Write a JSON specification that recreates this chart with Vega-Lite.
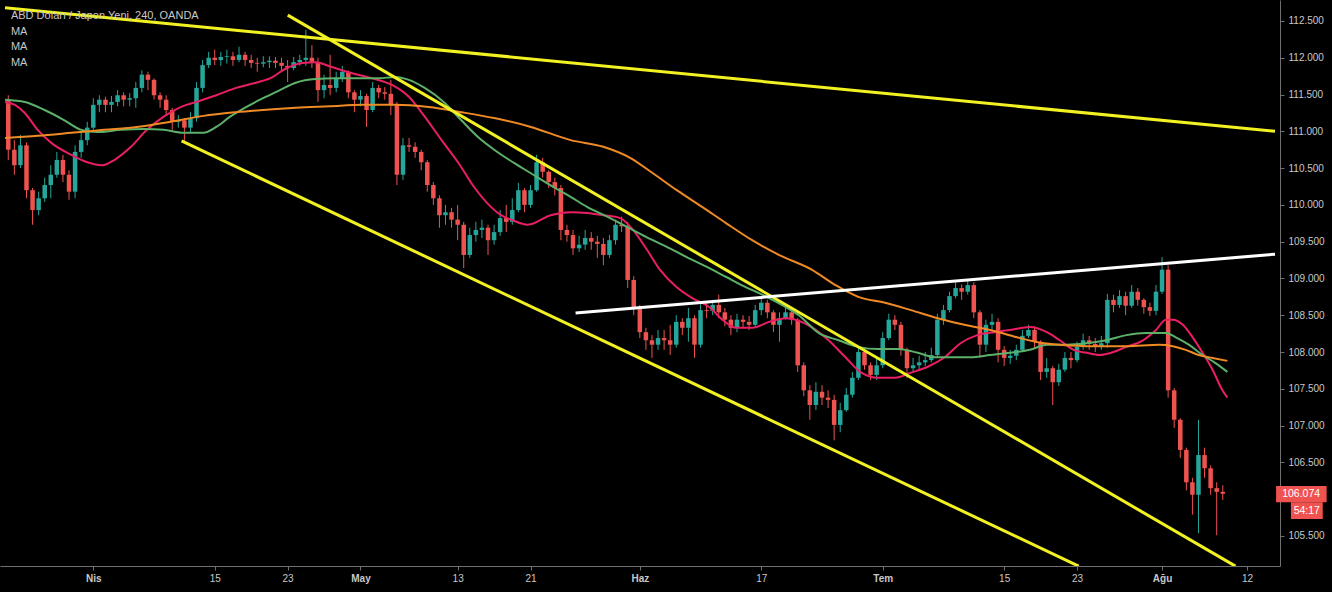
{
  "$schema": "https://vega.github.io/schema/vega-lite/v6.json",
  "width": 1280,
  "height": 566,
  "autosize": {"type": "none"},
  "padding": {"left": 0, "top": 0, "right": 52, "bottom": 26},
  "background": "#000000",
  "config": {"view": {"stroke": null}, "font": "Liberation Sans"},
  "datasets": {
    "candles": [
      {"t":-7,"o":111.43,"h":111.49,"l":110.61,"c":110.75},
      {"t":-6.5,"o":110.75,"h":110.88,"l":110.41,"c":110.54},
      {"t":-6,"o":110.54,"h":110.95,"l":110.50,"c":110.81},
      {"t":-5.5,"o":110.81,"h":110.85,"l":110.09,"c":110.20},
      {"t":-5,"o":110.20,"h":110.23,"l":109.73,"c":109.93},
      {"t":-4.5,"o":109.93,"h":110.18,"l":109.86,"c":110.09},
      {"t":-4,"o":110.09,"h":110.37,"l":110.04,"c":110.27},
      {"t":-3.5,"o":110.27,"h":110.54,"l":110.09,"c":110.41},
      {"t":-3,"o":110.41,"h":110.72,"l":110.37,"c":110.61},
      {"t":-2.5,"o":110.61,"h":110.68,"l":110.31,"c":110.41},
      {"t":-2,"o":110.41,"h":110.47,"l":110.07,"c":110.18},
      {"t":-1.5,"o":110.18,"h":110.81,"l":110.09,"c":110.72},
      {"t":-1,"o":110.72,"h":110.99,"l":110.64,"c":110.88},
      {"t":-0.5,"o":110.88,"h":111.13,"l":110.81,"c":111.05},
      {"t":0,"o":111.05,"h":111.45,"l":110.99,"c":111.36},
      {"t":0.5,"o":111.36,"h":111.49,"l":111.26,"c":111.43},
      {"t":1,"o":111.43,"h":111.47,"l":111.26,"c":111.36},
      {"t":1.5,"o":111.36,"h":111.48,"l":111.26,"c":111.40},
      {"t":2,"o":111.40,"h":111.56,"l":111.34,"c":111.49},
      {"t":2.5,"o":111.49,"h":111.53,"l":111.34,"c":111.43},
      {"t":3,"o":111.43,"h":111.52,"l":111.34,"c":111.45},
      {"t":3.5,"o":111.45,"h":111.67,"l":111.32,"c":111.59},
      {"t":4,"o":111.59,"h":111.83,"l":111.53,"c":111.77},
      {"t":4.5,"o":111.77,"h":111.81,"l":111.56,"c":111.70},
      {"t":5,"o":111.70,"h":111.72,"l":111.43,"c":111.49},
      {"t":5.5,"o":111.49,"h":111.53,"l":111.32,"c":111.43},
      {"t":6,"o":111.43,"h":111.49,"l":111.22,"c":111.29},
      {"t":6.5,"o":111.29,"h":111.32,"l":111.02,"c":111.13},
      {"t":7,"o":111.13,"h":111.22,"l":111.05,"c":111.15},
      {"t":7.5,"o":111.15,"h":111.18,"l":110.85,"c":111.05},
      {"t":8,"o":111.05,"h":111.26,"l":110.99,"c":111.18},
      {"t":8.5,"o":111.18,"h":111.67,"l":111.13,"c":111.59},
      {"t":9,"o":111.59,"h":111.97,"l":111.53,"c":111.90},
      {"t":9.5,"o":111.90,"h":112.08,"l":111.86,"c":112.00},
      {"t":10,"o":112.00,"h":112.11,"l":111.90,"c":111.97},
      {"t":10.5,"o":111.97,"h":112.08,"l":111.89,"c":112.01},
      {"t":11,"o":112.01,"h":112.11,"l":111.92,"c":112.02},
      {"t":11.5,"o":112.02,"h":112.08,"l":111.89,"c":111.97},
      {"t":12,"o":111.97,"h":112.15,"l":111.94,"c":112.04},
      {"t":12.5,"o":112.04,"h":112.08,"l":111.89,"c":111.97},
      {"t":13,"o":111.97,"h":112.04,"l":111.86,"c":111.93},
      {"t":13.5,"o":111.93,"h":112.00,"l":111.81,"c":111.92},
      {"t":14,"o":111.92,"h":112.02,"l":111.87,"c":111.94},
      {"t":14.5,"o":111.94,"h":112.02,"l":111.86,"c":111.96},
      {"t":15,"o":111.96,"h":112.01,"l":111.86,"c":111.93},
      {"t":15.5,"o":111.93,"h":112.00,"l":111.81,"c":111.89},
      {"t":16,"o":111.89,"h":111.97,"l":111.67,"c":111.86},
      {"t":16.5,"o":111.86,"h":112.01,"l":111.83,"c":111.94},
      {"t":17,"o":111.94,"h":112.04,"l":111.89,"c":111.97},
      {"t":17.5,"o":111.97,"h":112.38,"l":111.89,"c":112.00},
      {"t":18,"o":112.00,"h":112.17,"l":111.86,"c":111.94},
      {"t":18.5,"o":111.94,"h":112.00,"l":111.40,"c":111.56},
      {"t":19,"o":111.56,"h":111.77,"l":111.45,"c":111.63},
      {"t":19.5,"o":111.63,"h":112.04,"l":111.49,"c":111.59},
      {"t":20,"o":111.59,"h":111.81,"l":111.53,"c":111.72},
      {"t":20.5,"o":111.72,"h":111.89,"l":111.67,"c":111.81},
      {"t":21,"o":111.81,"h":111.83,"l":111.45,"c":111.53},
      {"t":21.5,"o":111.53,"h":111.56,"l":111.26,"c":111.43},
      {"t":22,"o":111.43,"h":111.56,"l":111.34,"c":111.48},
      {"t":22.5,"o":111.48,"h":111.51,"l":111.06,"c":111.29},
      {"t":23,"o":111.29,"h":111.67,"l":111.26,"c":111.59},
      {"t":23.5,"o":111.59,"h":111.63,"l":111.45,"c":111.53},
      {"t":24,"o":111.53,"h":111.60,"l":111.43,"c":111.51},
      {"t":24.5,"o":111.51,"h":111.70,"l":111.22,"c":111.36},
      {"t":25,"o":111.36,"h":111.40,"l":110.27,"c":110.41},
      {"t":25.5,"o":110.41,"h":110.91,"l":110.34,"c":110.81},
      {"t":26,"o":110.81,"h":110.91,"l":110.72,"c":110.79},
      {"t":26.5,"o":110.79,"h":110.85,"l":110.64,"c":110.72},
      {"t":27,"o":110.72,"h":110.75,"l":110.47,"c":110.58},
      {"t":27.5,"o":110.58,"h":110.61,"l":110.18,"c":110.27},
      {"t":28,"o":110.27,"h":110.31,"l":110.00,"c":110.09},
      {"t":28.5,"o":110.09,"h":110.13,"l":109.69,"c":109.86},
      {"t":29,"o":109.86,"h":110.00,"l":109.73,"c":109.90},
      {"t":29.5,"o":109.90,"h":109.96,"l":109.69,"c":109.80},
      {"t":30,"o":109.80,"h":110.00,"l":109.52,"c":109.73},
      {"t":30.5,"o":109.73,"h":109.77,"l":109.14,"c":109.32},
      {"t":31,"o":109.32,"h":109.69,"l":109.28,"c":109.59},
      {"t":31.5,"o":109.59,"h":109.77,"l":109.50,"c":109.66},
      {"t":32,"o":109.66,"h":109.80,"l":109.55,"c":109.69},
      {"t":32.5,"o":109.69,"h":109.73,"l":109.32,"c":109.52},
      {"t":33,"o":109.52,"h":109.73,"l":109.46,"c":109.63},
      {"t":33.5,"o":109.63,"h":109.93,"l":109.58,"c":109.82},
      {"t":34,"o":109.82,"h":110.00,"l":109.63,"c":109.77},
      {"t":34.5,"o":109.77,"h":110.09,"l":109.73,"c":109.93},
      {"t":35,"o":109.93,"h":110.30,"l":109.90,"c":110.20},
      {"t":35.5,"o":110.20,"h":110.23,"l":109.90,"c":110.00},
      {"t":36,"o":110.00,"h":110.27,"l":109.96,"c":110.20},
      {"t":36.5,"o":110.20,"h":110.68,"l":110.18,"c":110.58},
      {"t":37,"o":110.58,"h":110.64,"l":110.37,"c":110.45},
      {"t":37.5,"o":110.45,"h":110.47,"l":110.23,"c":110.31},
      {"t":38,"o":110.31,"h":110.37,"l":110.13,"c":110.23},
      {"t":38.5,"o":110.23,"h":110.27,"l":109.52,"c":109.66},
      {"t":39,"o":109.66,"h":109.73,"l":109.50,"c":109.59},
      {"t":39.5,"o":109.59,"h":109.66,"l":109.32,"c":109.41},
      {"t":40,"o":109.41,"h":109.58,"l":109.36,"c":109.46},
      {"t":40.5,"o":109.46,"h":109.66,"l":109.39,"c":109.55},
      {"t":41,"o":109.55,"h":109.63,"l":109.39,"c":109.50},
      {"t":41.5,"o":109.50,"h":109.58,"l":109.28,"c":109.47},
      {"t":42,"o":109.47,"h":109.55,"l":109.18,"c":109.32},
      {"t":42.5,"o":109.32,"h":109.59,"l":109.28,"c":109.52},
      {"t":43,"o":109.52,"h":109.80,"l":109.46,"c":109.73},
      {"t":43.5,"o":109.73,"h":109.84,"l":109.63,"c":109.71},
      {"t":44,"o":109.71,"h":109.77,"l":108.87,"c":108.98},
      {"t":44.5,"o":108.98,"h":109.03,"l":108.50,"c":108.60},
      {"t":45,"o":108.60,"h":108.64,"l":108.19,"c":108.27},
      {"t":45.5,"o":108.27,"h":108.33,"l":108.03,"c":108.16},
      {"t":46,"o":108.16,"h":108.23,"l":107.92,"c":108.10},
      {"t":46.5,"o":108.10,"h":108.30,"l":108.03,"c":108.19},
      {"t":47,"o":108.19,"h":108.30,"l":108.03,"c":108.16},
      {"t":47.5,"o":108.16,"h":108.37,"l":107.96,"c":108.10},
      {"t":48,"o":108.10,"h":108.50,"l":108.06,"c":108.41},
      {"t":48.5,"o":108.41,"h":108.46,"l":108.23,"c":108.33},
      {"t":49,"o":108.33,"h":108.60,"l":108.14,"c":108.46},
      {"t":49.5,"o":108.46,"h":108.50,"l":107.92,"c":108.10},
      {"t":50,"o":108.10,"h":108.65,"l":108.06,"c":108.57},
      {"t":50.5,"o":108.57,"h":108.68,"l":108.46,"c":108.56},
      {"t":51,"o":108.56,"h":108.71,"l":108.50,"c":108.64},
      {"t":51.5,"o":108.64,"h":108.78,"l":108.46,"c":108.54},
      {"t":52,"o":108.54,"h":108.60,"l":108.35,"c":108.44},
      {"t":52.5,"o":108.44,"h":108.50,"l":108.23,"c":108.33},
      {"t":53,"o":108.33,"h":108.52,"l":108.27,"c":108.44},
      {"t":53.5,"o":108.44,"h":108.50,"l":108.33,"c":108.41},
      {"t":54,"o":108.41,"h":108.49,"l":108.30,"c":108.37},
      {"t":54.5,"o":108.37,"h":108.64,"l":108.33,"c":108.57},
      {"t":55,"o":108.57,"h":108.75,"l":108.50,"c":108.67},
      {"t":55.5,"o":108.67,"h":108.71,"l":108.46,"c":108.54},
      {"t":56,"o":108.54,"h":108.57,"l":108.27,"c":108.37},
      {"t":56.5,"o":108.37,"h":108.54,"l":108.14,"c":108.46},
      {"t":57,"o":108.46,"h":108.63,"l":108.44,"c":108.54},
      {"t":57.5,"o":108.54,"h":108.60,"l":108.37,"c":108.44},
      {"t":58,"o":108.44,"h":108.46,"l":107.73,"c":107.82},
      {"t":58.5,"o":107.82,"h":107.86,"l":107.40,"c":107.48},
      {"t":59,"o":107.48,"h":107.55,"l":107.08,"c":107.28},
      {"t":59.5,"o":107.28,"h":107.59,"l":107.21,"c":107.46},
      {"t":60,"o":107.46,"h":107.55,"l":107.28,"c":107.38},
      {"t":60.5,"o":107.38,"h":107.48,"l":107.24,"c":107.35},
      {"t":61,"o":107.35,"h":107.42,"l":106.80,"c":107.01},
      {"t":61.5,"o":107.01,"h":107.31,"l":106.91,"c":107.21},
      {"t":62,"o":107.21,"h":107.51,"l":107.19,"c":107.42},
      {"t":62.5,"o":107.42,"h":107.73,"l":107.38,"c":107.65},
      {"t":63,"o":107.65,"h":108.08,"l":107.62,"c":108.00},
      {"t":63.5,"o":108.00,"h":108.06,"l":107.76,"c":107.82},
      {"t":64,"o":107.82,"h":107.86,"l":107.62,"c":107.69},
      {"t":64.5,"o":107.69,"h":107.92,"l":107.62,"c":107.82},
      {"t":65,"o":107.82,"h":108.27,"l":107.78,"c":108.19},
      {"t":65.5,"o":108.19,"h":108.52,"l":108.16,"c":108.44},
      {"t":66,"o":108.44,"h":108.50,"l":108.30,"c":108.37},
      {"t":66.5,"o":108.37,"h":108.41,"l":107.95,"c":108.03},
      {"t":67,"o":108.03,"h":108.06,"l":107.65,"c":107.78},
      {"t":67.5,"o":107.78,"h":107.92,"l":107.73,"c":107.82},
      {"t":68,"o":107.82,"h":107.95,"l":107.76,"c":107.86},
      {"t":68.5,"o":107.86,"h":108.00,"l":107.81,"c":107.89},
      {"t":69,"o":107.89,"h":108.06,"l":107.86,"c":107.96},
      {"t":69.5,"o":107.96,"h":108.52,"l":107.92,"c":108.44},
      {"t":70,"o":108.44,"h":108.64,"l":108.37,"c":108.57},
      {"t":70.5,"o":108.57,"h":108.82,"l":108.54,"c":108.76},
      {"t":71,"o":108.76,"h":108.95,"l":108.73,"c":108.87},
      {"t":71.5,"o":108.87,"h":108.92,"l":108.71,"c":108.82},
      {"t":72,"o":108.82,"h":108.98,"l":108.78,"c":108.91},
      {"t":72.5,"o":108.91,"h":108.95,"l":108.46,"c":108.54},
      {"t":73,"o":108.54,"h":108.57,"l":107.92,"c":108.10},
      {"t":73.5,"o":108.10,"h":108.44,"l":108.00,"c":108.37},
      {"t":74,"o":108.37,"h":108.52,"l":108.30,"c":108.41},
      {"t":74.5,"o":108.41,"h":108.46,"l":107.86,"c":108.03},
      {"t":75,"o":108.03,"h":108.08,"l":107.81,"c":107.92},
      {"t":75.5,"o":107.92,"h":108.03,"l":107.84,"c":107.95},
      {"t":76,"o":107.95,"h":108.10,"l":107.89,"c":108.03},
      {"t":76.5,"o":108.03,"h":108.30,"l":108.00,"c":108.22},
      {"t":77,"o":108.22,"h":108.37,"l":108.19,"c":108.30},
      {"t":77.5,"o":108.30,"h":108.35,"l":108.06,"c":108.14},
      {"t":78,"o":108.14,"h":108.16,"l":107.62,"c":107.73},
      {"t":78.5,"o":107.73,"h":107.92,"l":107.65,"c":107.78},
      {"t":79,"o":107.78,"h":107.81,"l":107.28,"c":107.59},
      {"t":79.5,"o":107.59,"h":107.84,"l":107.54,"c":107.76},
      {"t":80,"o":107.76,"h":108.00,"l":107.73,"c":107.92},
      {"t":80.5,"o":107.92,"h":108.00,"l":107.78,"c":107.89},
      {"t":81,"o":107.89,"h":108.14,"l":107.86,"c":108.07},
      {"t":81.5,"o":108.07,"h":108.25,"l":108.03,"c":108.16},
      {"t":82,"o":108.16,"h":108.22,"l":108.03,"c":108.11},
      {"t":82.5,"o":108.11,"h":108.19,"l":108.00,"c":108.07},
      {"t":83,"o":108.07,"h":108.22,"l":108.03,"c":108.12},
      {"t":83.5,"o":108.12,"h":108.79,"l":108.06,"c":108.71},
      {"t":84,"o":108.71,"h":108.78,"l":108.54,"c":108.64},
      {"t":84.5,"o":108.64,"h":108.84,"l":108.60,"c":108.76},
      {"t":85,"o":108.76,"h":108.82,"l":108.50,"c":108.63},
      {"t":85.5,"o":108.63,"h":108.91,"l":108.60,"c":108.82},
      {"t":86,"o":108.82,"h":108.87,"l":108.63,"c":108.71},
      {"t":86.5,"o":108.71,"h":108.73,"l":108.52,"c":108.61},
      {"t":87,"o":108.61,"h":108.67,"l":108.49,"c":108.56},
      {"t":87.5,"o":108.56,"h":108.91,"l":108.50,"c":108.82},
      {"t":88,"o":108.82,"h":109.29,"l":108.79,"c":109.12},
      {"t":88.5,"o":109.12,"h":109.18,"l":107.38,"c":107.48},
      {"t":89,"o":107.48,"h":107.51,"l":106.97,"c":107.08},
      {"t":89.5,"o":107.08,"h":107.10,"l":106.56,"c":106.67},
      {"t":90,"o":106.67,"h":106.70,"l":106.12,"c":106.23},
      {"t":90.5,"o":106.23,"h":106.29,"l":105.79,"c":106.06},
      {"t":91,"o":106.06,"h":107.08,"l":105.54,"c":106.60},
      {"t":91.5,"o":106.60,"h":106.70,"l":106.29,"c":106.42},
      {"t":92,"o":106.42,"h":106.46,"l":106.06,"c":106.15},
      {"t":92.5,"o":106.15,"h":106.23,"l":105.51,"c":106.10},
      {"t":93,"o":106.10,"h":106.19,"l":105.99,"c":106.074}
    ],
    "ma": [
      {"s":"MA fast","t":-7.27,"p":111.40},{"s":"MA fast","t":-6.45,"p":111.36},{"s":"MA fast","t":-5.64,"p":111.25},
      {"s":"MA fast","t":-4.58,"p":111.02},{"s":"MA fast","t":-3.43,"p":110.84},{"s":"MA fast","t":-1.80,"p":110.68},
      {"s":"MA fast","t":-0.49,"p":110.58},{"s":"MA fast","t":0.74,"p":110.54},{"s":"MA fast","t":1.72,"p":110.61},
      {"s":"MA fast","t":3.10,"p":110.79},{"s":"MA fast","t":4.41,"p":111.02},{"s":"MA fast","t":5.80,"p":111.20},
      {"s":"MA fast","t":7.19,"p":111.33},{"s":"MA fast","t":8.50,"p":111.40},{"s":"MA fast","t":10.13,"p":111.49},
      {"s":"MA fast","t":11.76,"p":111.59},{"s":"MA fast","t":13.40,"p":111.66},{"s":"MA fast","t":14.79,"p":111.74},
      {"s":"MA fast","t":15.60,"p":111.83},{"s":"MA fast","t":17.24,"p":111.93},{"s":"MA fast","t":18.30,"p":111.94},
      {"s":"MA fast","t":19.69,"p":111.87},{"s":"MA fast","t":21.32,"p":111.79},{"s":"MA fast","t":22.96,"p":111.72},
      {"s":"MA fast","t":24.59,"p":111.63},{"s":"MA fast","t":25.98,"p":111.47},{"s":"MA fast","t":27.29,"p":111.20},
      {"s":"MA fast","t":28.68,"p":110.88},{"s":"MA fast","t":30.07,"p":110.57},{"s":"MA fast","t":31.37,"p":110.24},
      {"s":"MA fast","t":32.76,"p":109.97},{"s":"MA fast","t":33.58,"p":109.86},{"s":"MA fast","t":34.40,"p":109.80},
      {"s":"MA fast","t":35.78,"p":109.73},{"s":"MA fast","t":37.66,"p":109.86},{"s":"MA fast","t":39.30,"p":109.90},
      {"s":"MA fast","t":40.69,"p":109.89},{"s":"MA fast","t":41.99,"p":109.86},{"s":"MA fast","t":43.38,"p":109.82},
      {"s":"MA fast","t":44.44,"p":109.66},{"s":"MA fast","t":45.59,"p":109.39},{"s":"MA fast","t":46.65,"p":109.12},
      {"s":"MA fast","t":48.04,"p":108.88},{"s":"MA fast","t":49.35,"p":108.73},{"s":"MA fast","t":50.74,"p":108.61},
      {"s":"MA fast","t":51.80,"p":108.44},{"s":"MA fast","t":52.94,"p":108.33},{"s":"MA fast","t":54.25,"p":108.33},
      {"s":"MA fast","t":55.64,"p":108.41},{"s":"MA fast","t":57.03,"p":108.46},{"s":"MA fast","t":59.15,"p":108.34},
      {"s":"MA fast","t":60.54,"p":108.16},{"s":"MA fast","t":61.93,"p":107.93},{"s":"MA fast","t":63.24,"p":107.72},
      {"s":"MA fast","t":64.62,"p":107.65},{"s":"MA fast","t":66.01,"p":107.65},{"s":"MA fast","t":67.32,"p":107.72},
      {"s":"MA fast","t":68.71,"p":107.80},{"s":"MA fast","t":70.10,"p":107.93},{"s":"MA fast","t":71.41,"p":108.12},
      {"s":"MA fast","t":72.79,"p":108.23},{"s":"MA fast","t":74.18,"p":108.27},{"s":"MA fast","t":75.49,"p":108.30},
      {"s":"MA fast","t":77.12,"p":108.34},{"s":"MA fast","t":78.51,"p":108.27},{"s":"MA fast","t":79.58,"p":108.16},
      {"s":"MA fast","t":80.72,"p":108.03},{"s":"MA fast","t":81.78,"p":107.99},{"s":"MA fast","t":82.84,"p":107.96},
      {"s":"MA fast","t":83.99,"p":108.00},{"s":"MA fast","t":85.05,"p":108.07},{"s":"MA fast","t":86.44,"p":108.16},
      {"s":"MA fast","t":87.50,"p":108.30},{"s":"MA fast","t":88.32,"p":108.44},{"s":"MA fast","t":88.89,"p":108.44},
      {"s":"MA fast","t":89.71,"p":108.37},{"s":"MA fast","t":90.52,"p":108.20},{"s":"MA fast","t":91.34,"p":107.99},
      {"s":"MA fast","t":92.16,"p":107.76},{"s":"MA fast","t":92.97,"p":107.48},{"s":"MA fast","t":93.38,"p":107.38},

      {"s":"MA mid","t":-7.27,"p":111.43},{"s":"MA mid","t":-5.64,"p":111.40},{"s":"MA mid","t":-4.00,"p":111.29},
      {"s":"MA mid","t":-2.37,"p":111.15},{"s":"MA mid","t":-0.98,"p":111.02},{"s":"MA mid","t":0.33,"p":110.99},
      {"s":"MA mid","t":2.29,"p":111.02},{"s":"MA mid","t":4.17,"p":111.03},{"s":"MA mid","t":5.80,"p":111.02},
      {"s":"MA mid","t":7.43,"p":110.98},{"s":"MA mid","t":9.07,"p":110.98},{"s":"MA mid","t":10.13,"p":111.06},
      {"s":"MA mid","t":11.27,"p":111.20},{"s":"MA mid","t":12.58,"p":111.33},{"s":"MA mid","t":13.97,"p":111.45},
      {"s":"MA mid","t":15.36,"p":111.56},{"s":"MA mid","t":16.67,"p":111.66},{"s":"MA mid","t":18.30,"p":111.71},
      {"s":"MA mid","t":19.93,"p":111.72},{"s":"MA mid","t":21.90,"p":111.72},{"s":"MA mid","t":23.53,"p":111.72},
      {"s":"MA mid","t":24.84,"p":111.74},{"s":"MA mid","t":25.98,"p":111.70},{"s":"MA mid","t":27.29,"p":111.59},
      {"s":"MA mid","t":28.92,"p":111.39},{"s":"MA mid","t":30.31,"p":111.15},{"s":"MA mid","t":31.70,"p":110.92},
      {"s":"MA mid","t":33.01,"p":110.75},{"s":"MA mid","t":34.64,"p":110.57},{"s":"MA mid","t":36.03,"p":110.43},
      {"s":"MA mid","t":37.91,"p":110.24},{"s":"MA mid","t":39.30,"p":110.11},{"s":"MA mid","t":40.69,"p":109.97},
      {"s":"MA mid","t":42.32,"p":109.84},{"s":"MA mid","t":43.95,"p":109.70},{"s":"MA mid","t":45.59,"p":109.56},
      {"s":"MA mid","t":47.22,"p":109.43},{"s":"MA mid","t":48.86,"p":109.29},{"s":"MA mid","t":50.49,"p":109.16},
      {"s":"MA mid","t":52.12,"p":109.02},{"s":"MA mid","t":53.76,"p":108.88},{"s":"MA mid","t":55.07,"p":108.78},
      {"s":"MA mid","t":57.03,"p":108.61},{"s":"MA mid","t":58.09,"p":108.50},{"s":"MA mid","t":59.72,"p":108.26},
      {"s":"MA mid","t":61.36,"p":108.16},{"s":"MA mid","t":62.99,"p":108.07},{"s":"MA mid","t":64.62,"p":108.04},
      {"s":"MA mid","t":66.26,"p":108.04},{"s":"MA mid","t":67.89,"p":107.99},{"s":"MA mid","t":69.28,"p":107.93},
      {"s":"MA mid","t":70.59,"p":107.93},{"s":"MA mid","t":72.22,"p":107.93},{"s":"MA mid","t":73.86,"p":107.96},
      {"s":"MA mid","t":75.49,"p":107.99},{"s":"MA mid","t":77.12,"p":108.03},{"s":"MA mid","t":78.51,"p":108.10},
      {"s":"MA mid","t":80.15,"p":108.10},{"s":"MA mid","t":81.78,"p":108.12},{"s":"MA mid","t":83.42,"p":108.16},
      {"s":"MA mid","t":85.05,"p":108.23},{"s":"MA mid","t":86.68,"p":108.26},{"s":"MA mid","t":88.32,"p":108.26},
      {"s":"MA mid","t":89.13,"p":108.20},{"s":"MA mid","t":90.20,"p":108.10},{"s":"MA mid","t":91.34,"p":107.96},
      {"s":"MA mid","t":92.40,"p":107.85},{"s":"MA mid","t":93.38,"p":107.73},

      {"s":"MA slow","t":-7.27,"p":110.91},{"s":"MA slow","t":-4.58,"p":110.94},{"s":"MA slow","t":-1.80,"p":110.98},
      {"s":"MA slow","t":0.90,"p":111.02},{"s":"MA slow","t":3.59,"p":111.06},{"s":"MA slow","t":6.37,"p":111.13},
      {"s":"MA slow","t":9.07,"p":111.21},{"s":"MA slow","t":11.76,"p":111.26},{"s":"MA slow","t":14.79,"p":111.30},
      {"s":"MA slow","t":16.67,"p":111.32},{"s":"MA slow","t":19.44,"p":111.34},{"s":"MA slow","t":22.14,"p":111.36},
      {"s":"MA slow","t":24.84,"p":111.36},{"s":"MA slow","t":27.61,"p":111.33},{"s":"MA slow","t":30.31,"p":111.26},
      {"s":"MA slow","t":33.01,"p":111.18},{"s":"MA slow","t":36.03,"p":111.06},{"s":"MA slow","t":39.30,"p":110.88},
      {"s":"MA slow","t":41.99,"p":110.79},{"s":"MA slow","t":44.20,"p":110.64},{"s":"MA slow","t":46.08,"p":110.43},
      {"s":"MA slow","t":48.04,"p":110.20},{"s":"MA slow","t":50.16,"p":109.97},{"s":"MA slow","t":52.12,"p":109.75},
      {"s":"MA slow","t":54.25,"p":109.52},{"s":"MA slow","t":56.45,"p":109.32},{"s":"MA slow","t":59.15,"p":109.12},
      {"s":"MA slow","t":61.11,"p":108.91},{"s":"MA slow","t":62.99,"p":108.75},{"s":"MA slow","t":65.20,"p":108.67},
      {"s":"MA slow","t":67.32,"p":108.57},{"s":"MA slow","t":69.53,"p":108.46},{"s":"MA slow","t":71.73,"p":108.37},
      {"s":"MA slow","t":73.86,"p":108.30},{"s":"MA slow","t":76.06,"p":108.20},{"s":"MA slow","t":78.27,"p":108.12},
      {"s":"MA slow","t":79.58,"p":108.10},{"s":"MA slow","t":82.35,"p":108.08},{"s":"MA slow","t":85.05,"p":108.08},
      {"s":"MA slow","t":87.75,"p":108.10},{"s":"MA slow","t":88.89,"p":108.08},{"s":"MA slow","t":89.95,"p":108.03},
      {"s":"MA slow","t":91.01,"p":107.96},{"s":"MA slow","t":92.16,"p":107.92},{"s":"MA slow","t":93.38,"p":107.88}
    ],
    "lines": [
      {"s":"top","t":-7.27,"p":112.68},{"s":"top","t":97.30,"p":111.00},
      {"s":"upper","t":16.01,"p":112.58},{"s":"upper","t":94.04,"p":105.09},
      {"s":"lower","t":7.27,"p":110.87},{"s":"lower","t":81.13,"p":105.09},
      {"s":"neck","t":39.71,"p":108.53},{"s":"neck","t":97.30,"p":109.33}
    ],
    "boxes": [
      {"t1":97.39,"t2":101.55,"p1":106.18,"p2":105.96},
      {"t1":98.61,"t2":101.23,"p1":105.96,"p2":105.73}
    ],
    "tags": [
      {"t":99.45,"p":106.074,"txt":"106.074"},
      {"t":99.92,"p":105.845,"txt":"54:17"}
    ],
    "legend": [
      {"t":-6.78,"p":112.57,"txt":"ABD Doları / Japon Yeni, 240, OANDA"},
      {"t":-6.78,"p":112.35,"txt":"MA"},
      {"t":-6.78,"p":112.145,"txt":"MA"},
      {"t":-6.78,"p":111.93,"txt":"MA"}
    ]
  },
  "layer": [
    {
      "data": {"name": "candles"},
      "mark": {"type": "rule", "strokeWidth": 1},
      "encoding": {
        "x": {
          "field": "t", "type": "quantitative",
          "scale": {"domain": [-7.27, 97.3], "nice": false, "zero": false},
          "axis": {
            "title": null,
            "values": [0, 10, 16, 22, 30, 36, 45, 55, 65, 75, 81, 88, 95],
            "labelExpr": "datum.value==0?'Nis':datum.value==10?'15':datum.value==16?'23':datum.value==22?'May':datum.value==30?'13':datum.value==36?'21':datum.value==45?'Haz':datum.value==55?'17':datum.value==65?'Tem':datum.value==75?'15':datum.value==81?'23':datum.value==88?'Ağu':'12'",
            "labelFontWeight": {"condition": {"test": "datum.value==0||datum.value==22||datum.value==45||datum.value==65||datum.value==88", "value": "bold"}, "value": "normal"},
            "grid": false,
            "domainColor": "#707070",
            "tickColor": "#707070",
            "tickSize": 4,
            "labelColor": "#c8c8c8",
            "labelFontSize": 10,
            "labelPadding": 3,
            "labelFlush": false,
            "labelOverlap": false
          }
        },
        "y": {
          "field": "l", "type": "quantitative",
          "scale": {"domain": [105.092, 112.785], "nice": false, "zero": false},
          "axis": {
            "title": null,
            "orient": "right",
            "values": [105.5, 106.5, 107, 107.5, 108, 108.5, 109, 109.5, 110, 110.5, 111, 111.5, 112, 112.5],
            "format": ".3f",
            "grid": false,
            "domainColor": "#707070",
            "tickColor": "#707070",
            "tickSize": 4,
            "labelColor": "#c8c8c8",
            "labelFontSize": 10,
            "labelPadding": 4,
            "labelFlush": false
          }
        },
        "y2": {"field": "h"},
        "color": {"condition": {"test": "datum.c >= datum.o", "value": "#26a69a"}, "value": "#ef5350"}
      }
    },
    {
      "data": {"name": "candles"},
      "mark": {"type": "bar", "width": 4.5},
      "encoding": {
        "x": {"field": "t", "type": "quantitative"},
        "y": {"field": "o", "type": "quantitative"},
        "y2": {"field": "c"},
        "color": {"condition": {"test": "datum.c >= datum.o", "value": "#26a69a"}, "value": "#ef5350"}
      }
    },
    {
      "data": {"name": "ma"},
      "mark": {"type": "line", "strokeWidth": 2, "interpolate": "monotone", "clip": true},
      "encoding": {
        "x": {"field": "t", "type": "quantitative"},
        "y": {"field": "p", "type": "quantitative"},
        "color": {"field": "s", "type": "nominal", "legend": null,
          "scale": {"domain": ["MA fast", "MA mid", "MA slow", "top", "upper", "lower", "neck"],
                    "range": ["#e91e63", "#5cb06a", "#f08a24", "#f2f222", "#f2f222", "#f2f222", "#ffffff"]}}
      }
    },
    {
      "data": {"name": "lines"},
      "mark": {"type": "line", "strokeWidth": 3, "clip": true},
      "encoding": {
        "x": {"field": "t", "type": "quantitative"},
        "y": {"field": "p", "type": "quantitative"},
        "color": {"field": "s", "type": "nominal", "legend": null}
      }
    },
    {
      "mark": {"type": "rule", "color": "#ef5350", "strokeDash": [1, 2], "strokeWidth": 1},
      "encoding": {"y": {"datum": 106.074}}
    },
    {
      "data": {"name": "boxes"},
      "mark": {"type": "rect", "color": "#ef5350", "clip": false},
      "encoding": {
        "x": {"field": "t1", "type": "quantitative"},
        "x2": {"field": "t2"},
        "y": {"field": "p1", "type": "quantitative"},
        "y2": {"field": "p2"}
      }
    },
    {
      "data": {"name": "tags"},
      "mark": {"type": "text", "color": "#ffffff", "fontSize": 10.5, "align": "center", "baseline": "middle", "clip": false},
      "encoding": {
        "x": {"field": "t", "type": "quantitative"},
        "y": {"field": "p", "type": "quantitative"},
        "text": {"field": "txt"}
      }
    },
    {
      "data": {"name": "legend"},
      "mark": {"type": "text", "color": "#c8c8c8", "fontSize": 11, "align": "left", "baseline": "middle"},
      "encoding": {
        "x": {"field": "t", "type": "quantitative"},
        "y": {"field": "p", "type": "quantitative"},
        "text": {"field": "txt"}
      }
    }
  ]
}
